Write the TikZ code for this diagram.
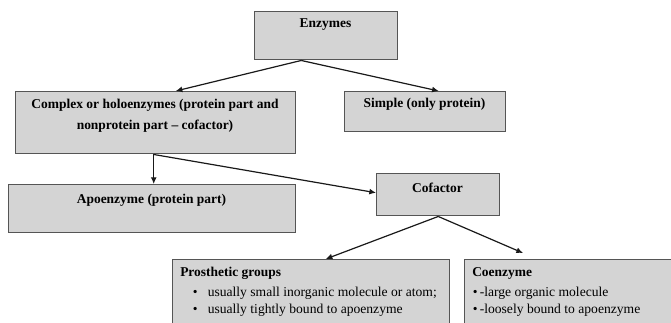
\documentclass[tikz,border=0pt]{standalone}
\usepackage{fontspec}
\setmainfont{Liberation Serif}
\usetikzlibrary{calc,arrows.meta}
\definecolor{boxfill}{RGB}{212,212,212}
\definecolor{boxline}{RGB}{85,85,85}
\begin{document}
\begin{tikzpicture}[x=0.75pt,y=-0.75pt,
  box/.style={draw=boxline, fill=boxfill, line width=1.1pt, rectangle, inner sep=0pt, anchor=north west},
  hd/.style={font=\fontsize{10.1}{15.75}\selectfont\bfseries, inner sep=0pt, align=center},
  lft/.style={inner sep=0pt, anchor=west},
  bl/.style={font=\fontsize{10.2}{12}\selectfont, inner sep=0pt, anchor=west},
  arr/.style={draw=black!90, line width=0.9pt, -{Latex[length=5pt,width=4.5pt]}}]
\useasboundingbox (0,0) rectangle (671,322);
\clip (0,0) rectangle (671,322);
\fill[white] (0,0) rectangle (671,322);
% boxes
\node[box, minimum width=107.25pt, minimum height=36pt] (enz) at (254,11) {};
\node[box, minimum width=210pt, minimum height=46.5pt] (cpx) at (15,91) {};
\node[box, minimum width=120.75pt, minimum height=30pt] (smp) at (344,91) {};
\node[box, minimum width=215.25pt, minimum height=36pt] (apo) at (8,184) {};
\node[box, minimum width=92.25pt, minimum height=31.5pt] (cof) at (376,173) {};
\node[box, minimum width=207.75pt, minimum height=60pt] (pro) at (172,259) {};
\node[box, minimum width=162pt, minimum height=60pt] (coe) at (464,259) {};
% texts
\node[hd] (tenz) at (325.5,25) {Enzymes};
\node[hd] (tcpx) at (155,116) {Complex or holoenzymes (protein part and\\nonprotein part -- cofactor)};
\node[hd] (tsmp) at (424.5,104) {Simple (only protein)};
\node[hd] (tapo) at (151.5,200) {Apoenzyme (protein part)};
\node[hd] (tcof) at (437.5,188) {Cofactor};
\node[hd, lft] (tpro) at (180,273) {Prosthetic groups};
\node[bl] (pb1) at (192.5,293) {\makebox[11.25pt][l]{\textbullet}usually small inorganic molecule or atom;};
\node[bl] (pb2) at (192.5,310) {\makebox[11.25pt][l]{\textbullet}usually tightly bound to apoenzyme};
\node[hd, lft] (tcoe) at (472,273) {Coenzyme};
\node[bl] (cb1) at (472.5,293) {\textbullet\,-large organic molecule};
\node[bl] (cb2) at (472.5,310) {\textbullet\,-loosely bound to apoenzyme};
% arrows
\coordinate (enzs) at ($(enz.south)+(-25,0)$);
\coordinate (cpxs) at ($(cpx.south)+(-2,0)$);
\coordinate (coeend) at ($(coe.north west)+(59,-6)$);
\draw[arr] (enzs) -- ($(cpx.north)+(20,0)$);
\draw[arr] (enzs) -- ($(smp.north)+(13.5,0)$);
\draw[arr] (cpxs) -- (cpxs |- apo.north);
\draw[arr] (cpxs) -- ($(cof.west)+(0,-2)$);
\draw[arr] (cof.south) -- ($(pro.north)+(14.5,0)$);
\draw[arr] (cof.south) -- (coeend);
\end{tikzpicture}
\end{document}
